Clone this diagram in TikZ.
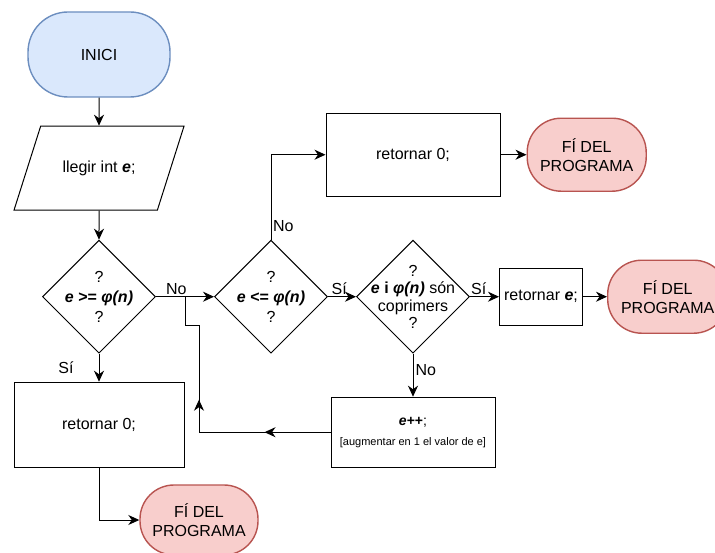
\documentclass[tikz,border=0pt]{standalone}
\usepackage{fontspec}
\setmainfont{Liberation Sans}
\usetikzlibrary{arrows.meta,positioning,calc,shapes.geometric,decorations.markings}
\definecolor{startfill}{HTML}{DAE8FC}
\definecolor{startline}{HTML}{6C8EBF}
\definecolor{endfill}{HTML}{F8CECC}
\definecolor{endline}{HTML}{B85450}

\begin{document}
\begin{tikzpicture}[
  x=1pt, y=1pt, font=\fontsize{16}{19}\selectfont, line width=1pt,
  >={Stealth[length=11pt, width=10pt, inset=3.5pt]},
  term/.style={draw=endline, fill=endfill, line width=1.4pt, rounded corners=34pt, align=center, inner sep=2pt},
  box/.style={draw, align=center, inner sep=2pt},
  dia/.style={draw, diamond, aspect=1, minimum size=113pt, inner sep=0pt},
  diatxt/.style={align=center, font=\fontsize{16}{#1}\selectfont},
  diatxt/.default=20pt,
  lab/.style={inner sep=2pt},
  loopmarks/.style={postaction={decorate}, decoration={markings,
    mark=at position 66pt with {\arrow{>}}, mark=at position 164pt with {\arrow{>}}}}]
  \useasboundingbox (0,0) rectangle (715,-553);
  % main column
  \node[term, draw=startline, fill=startfill, minimum width=142pt, minimum height=85pt, rounded corners=40pt] (start) at (99,-54.5) {INICI};
  \node[draw, trapezium, trapezium left angle=39, trapezium right angle=141, trapezium stretches body=true,
    minimum width=170pt, minimum height=84pt, below=28pt of start] (read) {llegir int \textbf{\textit{e}};};
  \node[dia, below=29pt of read, label={[diatxt]center:{?\\\textbf{\textit{e} >= \textit{φ(n)}}\\?}}] (d1) {};
  \node[box, minimum width=170pt, minimum height=85pt, below=28pt of d1] (ret0a) {retornar 0;};
  \node[term, minimum width=118pt, minimum height=70pt] (end1) at (199,-520) {FÍ DEL\\PROGRAMA};
  % second and third test
  \node[dia, right=58pt of d1, label={[diatxt]center:{?\\\textbf{\textit{e} <= \textit{φ(n)}}\\?}}] (d2) {};
  \node[dia, right=28pt of d2, label={[diatxt=17.5pt]center:{?\\\textbf{\textit{e} i \textit{φ(n)}} són\\coprimers\\?}}] (d3) {};
  \node[box, minimum width=174pt, minimum height=83pt, above=43pt of d3] (ret0b) {retornar 0;};
  \node[term, minimum width=119pt, minimum height=73pt, right=26pt of ret0b] (end2) {FÍ DEL\\PROGRAMA};
  \node[box, minimum width=83pt, minimum height=57pt, right=29pt of d3] (rete) {retornar \textbf{\textit{e}};};
  \node[term, minimum width=120pt, minimum height=73pt, right=24pt of rete] (end3) {FÍ DEL\\PROGRAMA};
  \node[box, minimum width=164pt, minimum height=70pt, below=43pt of d3, font=\fontsize{14}{20}\selectfont] (incr)
    {\textbf{\textit{e}++};\\{\fontsize{11}{13}\selectfont[augmentar en 1 el valor de e]}};
  \coordinate (jn) at ($(d1.east)!0.5!(d2.west)$);
  \coordinate (lp) at ($(jn)+(14,-29)$);
  % connectors
  \draw[->] (start) -- (read);
  \draw[->] (read) -- (d1);
  \draw[->] (d1) -- node[lab, left=23pt]{Sí} (ret0a);
  \draw[->] (ret0a.south) |- (end1.west);
  \draw[->] (d1) -- node[lab, pos=0.35, above]{No} (d2);
  \draw[->] (d2.north) |- node[lab, pos=0.08, right, inner sep=1.5pt]{No} (ret0b.west);
  \draw[->] (ret0b) -- (end2);
  \draw[->] (d2) -- node[lab, pos=0.4, above]{Sí} (d3);
  \draw[->] (d3) -- node[lab, pos=0.3, above]{Sí} (rete);
  \draw[->] (rete) -- (end3);
  \draw[->] (d3) -- node[lab, pos=0.37, right]{No} (incr);
  \draw[loopmarks] (incr.west) -| (lp) -| (jn);
\end{tikzpicture}
\end{document}
